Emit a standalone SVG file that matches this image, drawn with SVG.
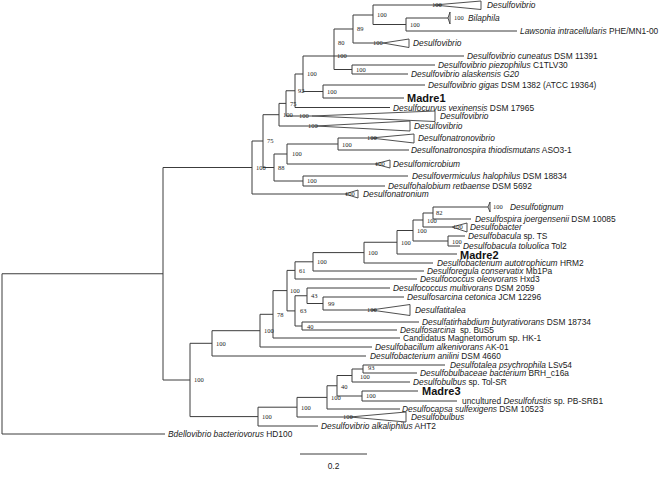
<svg xmlns="http://www.w3.org/2000/svg" width="661" height="480" viewBox="0 0 661 480">
<style>
.br{fill:none;stroke:#3c3c3c;stroke-width:1}
.tri{fill:#fff;stroke:#3c3c3c;stroke-width:0.9}
.lf{font-family:"Liberation Sans",Arial,sans-serif;font-size:8.4px;fill:#1a1a1a}
.i{font-style:italic}
.md{font-family:"Liberation Sans",Arial,sans-serif;font-size:11px;font-weight:bold;fill:#111}
.bs{font-family:"Liberation Serif","Times New Roman",serif;font-size:6.5px;fill:#222}
</style>
<rect width="661" height="480" fill="#fff"/>
<g id="connectors" class="br">
<path d="M373 5V24.5M373 5H434M373 24.5H406"/>
<path d="M406 18V31M406 18H449M406 31H517"/>
<path d="M353 15V43M353 15H373M353 43H383"/>
<path d="M334 29V69.5M334 29H353M334 56H464M334 69.5H352"/>
<path d="M352 65V74M352 65H435M352 74H408"/>
<path d="M303 56V91.5M303 56H334M303 91.5H323"/>
<path d="M323 85V98M323 85H425M323 98H404"/>
<path d="M295 74V107.5M295 74H303M295 107.5H390"/>
<path d="M286 90.75V116M286 90.75H295M286 116H312"/>
<path d="M279 103.4V126M279 103.4H286M279 126H316"/>
<path d="M263 114.7V167.5M263 114.7H279M263 167.5H274"/>
<path d="M274 154V181M274 154H287M274 181H303"/>
<path d="M287 144V164M287 144H338M287 164H375"/>
<path d="M338 138V150M338 138H371M338 150H409"/>
<path d="M303 176V186M303 176H408M303 186H385"/>
<path d="M252 141V194M252 141H263M252 194H345"/>
<path d="M163 167.5V380M163 167.5H252M163 380H190"/>
<path d="M2 273.75V434M2 273.75H163M2 434H165"/>
<path d="M433 207V219M433 207H488M433 219H471"/>
<path d="M423 213V227M423 213H433M423 227H452"/>
<path d="M448 236V246M448 236H465M448 246H460"/>
<path d="M413 220V241M413 220H423M413 241H448"/>
<path d="M397 230.5V254M397 230.5H413M397 254H457"/>
<path d="M364 242.25V263M364 242.25H397M364 263H433"/>
<path d="M313 252.6V271M313 252.6H364M313 271H424"/>
<path d="M295 261.8V279M295 261.8H313M295 279H417"/>
<path d="M307 288V303.5M307 288H390M307 303.5H323"/>
<path d="M323 297V310M323 297H404M323 310H371"/>
<path d="M302 322V330M302 322H419M302 330H397"/>
<path d="M295 295.75V326M295 295.75H307M295 326H302"/>
<path d="M287 270.4V310.9M287 270.4H295M287 310.9H295"/>
<path d="M273 290.6V338M273 290.6H287M273 338H400"/>
<path d="M260 314.3V347M260 314.3H273M260 347H372"/>
<path d="M212 330.7V356M212 330.7H260M212 356H366"/>
<path d="M363 365V373M363 365H445M363 373H417"/>
<path d="M352 369V382M352 369H363M352 382H410"/>
<path d="M362 391V401M362 391H418M362 401H457"/>
<path d="M337 375.5V396M337 375.5H352M337 396H362"/>
<path d="M327 385.75V409M327 385.75H337M327 409H400"/>
<path d="M297 397.4V417M297 397.4H327M297 417H350"/>
<path d="M258 407.2V426M258 407.2H297M258 426H318"/>
<path d="M190 343.3V416.6M190 343.3H212M190 416.6H258"/>
<path d="M300 454H367"/>
</g>
<g id="leaf-desulfovibrio-1"><polygon class="tri" points="434,5 481,1 481,9.5"/><text class="bs" x="432" y="7.3">100</text><text class="lf i" x="487" y="8">Desulfovibrio</text></g>
<g id="leaf-bilaphila"><polygon class="tri" points="448,18 450,12 450,24"/><text class="bs" x="454" y="20.3">100</text><text class="lf i" x="468" y="21">Bilaphila</text></g>
<g id="leaf-lawsonia"><text class="lf" x="520" y="34"><tspan class="i">Lawsonia intracellularis</tspan> PHE/MN1-00</text></g>
<g id="leaf-desulfovibrio-2"><polygon class="tri" points="383,43 409,39 409,47.5"/><text class="bs" x="373" y="45.3">100</text><text class="lf i" x="413" y="46">Desulfovibrio</text></g>
<g id="leaf-cuneatus"><text class="lf" x="467" y="59"><tspan class="i">Desulfovibrio cuneatus</tspan> DSM 11391</text></g>
<g id="leaf-piezophilus"><text class="lf" x="438" y="68"><tspan class="i">Desulfovibrio piezophilus</tspan> C1TLV30</text></g>
<g id="leaf-alaskensis"><text class="lf i" x="411" y="77">Desulfovibrio alaskensis G20</text></g>
<g id="leaf-gigas"><text class="lf" x="428" y="88"><tspan class="i">Desulfovibrio gigas</tspan> DSM 1382 (ATCC 19364)</text></g>
<g id="leaf-madre1"><text class="md" x="407" y="102">Madre1</text></g>
<g id="leaf-desulfocurvus"><text class="lf" x="393" y="110.5"><tspan class="i">Desulfocurvus vexinensis</tspan> DSM 17965</text></g>
<g id="leaf-desulfovibrio-3"><polygon class="tri" points="312,116 435,111 435,121.5"/><text class="bs" x="299" y="118.3">100</text><text class="lf i" x="440" y="119">Desulfovibrio</text></g>
<g id="leaf-desulfovibrio-4"><polygon class="tri" points="316,126 410,121 410,131"/><text class="bs" x="308" y="128.3">100</text><text class="lf i" x="414" y="129">Desulfovibrio</text></g>
<g id="leaf-desulfonatronovibrio"><polygon class="tri" points="371,138 414,134 414,143"/><text class="bs" x="367" y="140.3">100</text><text class="lf i" x="418" y="141">Desulfonatronovibrio</text></g>
<g id="leaf-desulfonatronospira"><text class="lf" x="411" y="153"><tspan class="i">Desulfonatronospira thiodismutans</tspan> ASO3-1</text></g>
<g id="leaf-desulfomicrobium"><polygon class="tri" points="375,164 390,160 390,168"/><text class="bs" x="375" y="166.3">100</text><text class="lf i" x="393" y="167">Desulfomicrobium</text></g>
<g id="leaf-desulfovermiculus"><text class="lf" x="412" y="179"><tspan class="i">Desulfovermiculus halophilus</tspan> DSM 18834</text></g>
<g id="leaf-desulfohalobium"><text class="lf" x="388" y="189"><tspan class="i">Desulfohalobium retbaense</tspan> DSM 5692</text></g>
<g id="leaf-desulfonatronium"><polygon class="tri" points="345,194 358,190 358,198"/><text class="bs" x="345" y="196.3">100</text><text class="lf i" x="363" y="197">Desulfonatronium</text></g>
<g id="leaf-desulfotignum"><polygon class="tri" points="488,207 490,202 490,212"/><text class="bs" x="493" y="209.3">100</text><text class="lf i" x="510" y="210">Desulfotignum</text></g>
<g id="leaf-desulfospira"><text class="lf" x="475" y="222"><tspan class="i">Desulfospira joergensenii</tspan> DSM 10085</text></g>
<g id="leaf-desulfobacter"><polygon class="tri" points="452,227 467,223 467,232"/><text class="bs" x="453" y="229.3">100</text><text class="lf i" x="470" y="230">Desulfobacter</text></g>
<g id="leaf-desulfobacula-ts"><text class="lf" x="468" y="239"><tspan class="i">Desulfobacula</tspan> sp. TS</text></g>
<g id="leaf-desulfobacula-toluolica"><text class="lf" x="463" y="248.5"><tspan class="i">Desulfobacula toluolica</tspan> Tol2</text></g>
<g id="leaf-madre2"><text class="md" x="460" y="258.5">Madre2</text></g>
<g id="leaf-autotrophicum"><text class="lf" x="437" y="266"><tspan class="i">Desulfobacterium autotrophicum</tspan> HRM2</text></g>
<g id="leaf-desulforegula"><text class="lf" x="427" y="274"><tspan class="i">Desulforegula conservatix</tspan> Mb1Pa</text></g>
<g id="leaf-oleovorans"><text class="lf" x="420" y="282"><tspan class="i">Desulfococcus oleovorans</tspan> Hxd3</text></g>
<g id="leaf-multivorans"><text class="lf" x="393" y="291"><tspan class="i">Desulfococcus multivorans</tspan> DSM 2059</text></g>
<g id="leaf-cetonica"><text class="lf" x="407" y="300"><tspan class="i">Desulfosarcina cetonica</tspan> JCM 12296</text></g>
<g id="leaf-desulfatitalea"><polygon class="tri" points="371,310 410,304.5 410,315.5"/><text class="bs" x="367" y="312.3">100</text><text class="lf i" x="415" y="313">Desulfatitalea</text></g>
<g id="leaf-desulfatirhabdium"><text class="lf" x="422" y="325"><tspan class="i">Desulfatirhabdium butyrativorans</tspan> DSM 18734</text></g>
<g id="leaf-bus5"><text class="lf" x="400" y="333"><tspan class="i">Desulfosarcina</tspan><tspan dx="4.5">sp. BuS5</tspan></text></g>
<g id="leaf-candidatus"><text class="lf" x="403" y="341">Candidatus Magnetomorum sp. HK-1</text></g>
<g id="leaf-desulfobacillum"><text class="lf" x="375" y="350"><tspan class="i">Desulfobacillum alkenivorans</tspan> AK-01</text></g>
<g id="leaf-anilini"><text class="lf" x="370" y="359"><tspan class="i">Desulfobacterium anilini</tspan> DSM 4660</text></g>
<g id="leaf-desulfotalea"><text class="lf" x="450" y="368"><tspan class="i">Desulfotalea psychrophila</tspan> LSv54</text></g>
<g id="leaf-desulfobulbaceae"><text class="lf" x="420" y="376"><tspan class="i">Desulfobulbaceae bacterium</tspan> BRH_c16a</text></g>
<g id="leaf-tol-sr"><text class="lf" x="413" y="385"><tspan class="i">Desulfobulbus</tspan> sp. Tol-SR</text></g>
<g id="leaf-madre3"><text class="md" x="422" y="395">Madre3</text></g>
<g id="leaf-uncultured"><text class="lf" x="462" y="404">uncultured <tspan class="i">Desulfofustis</tspan> sp. PB-SRB1</text></g>
<g id="leaf-desulfocapsa"><text class="lf" x="402" y="412"><tspan class="i">Desulfocapsa sulfexigens</tspan> DSM 10523</text></g>
<g id="leaf-desulfobulbus"><polygon class="tri" points="350,417 406,412 406,422"/><text class="bs" x="343" y="419.3">100</text><text class="lf i" x="411" y="420">Desulfobulbus</text></g>
<g id="leaf-alkaliphilus"><text class="lf" x="321" y="429"><tspan class="i">Desulfovibrio alkaliphilus</tspan> AHT2</text></g>
<g id="leaf-bdellovibrio"><text class="lf" x="168" y="437"><tspan class="i">Bdellovibrio bacteriovorus</tspan> HD100</text></g>
<g id="n-top"><text class="bs" x="377" y="17.3">100</text></g>
<g id="n-bl"><text class="bs" x="410" y="26.8">100</text></g>
<g id="n-89"><text class="bs" x="357" y="31.3">89</text></g>
<g id="n-80"><text class="bs" x="338" y="44.8">80</text></g>
<g id="n-100a"><text class="bs" x="337" y="58.3">100</text></g>
<g id="n-pa"><text class="bs" x="356" y="71.8">100</text></g>
<g id="n-h"><text class="bs" x="307" y="76.3">100</text></g>
<g id="n-gm"><text class="bs" x="327" y="94.3">100</text></g>
<g id="n-g"><text class="bs" x="298" y="93.3">92</text></g>
<g id="n-f"><text class="bs" x="290" y="106.3">75</text></g>
<g id="n-e"><text class="bs" x="283" y="117">100</text></g>
<g id="n-b"><text class="bs" x="267" y="143.3">75</text></g>
<g id="n-c"><text class="bs" x="278" y="170.3">88</text></g>
<g id="n-d"><text class="bs" x="292" y="156.3">100</text></g>
<g id="n-nv"><text class="bs" x="342" y="147">100</text></g>
<g id="n-i"><text class="bs" x="307" y="183.3">100</text></g>
<g id="n-a"><text class="bs" x="256" y="170">100</text></g>
<g id="n-x1"><text class="bs" x="436" y="215.3">82</text></g>
<g id="n-x2"><text class="bs" x="427" y="223.3">100</text></g>
<g id="n-x4"><text class="bs" x="452" y="244">100</text></g>
<g id="n-x3"><text class="bs" x="417" y="233">100</text></g>
<g id="n-x5"><text class="bs" x="401" y="244.5">100</text></g>
<g id="n-w"><text class="bs" x="368" y="254.8">100</text></g>
<g id="n-v"><text class="bs" x="317" y="264.3">100</text></g>
<g id="n-y"><text class="bs" x="299" y="272.5">61</text></g>
<g id="n-43"><text class="bs" x="311" y="298">43</text></g>
<g id="n-99"><text class="bs" x="328" y="306">99</text></g>
<g id="n-40a"><text class="bs" x="307" y="328.5">40</text></g>
<g id="n-63"><text class="bs" x="300" y="313.3">63</text></g>
<g id="n-o"><text class="bs" x="290" y="293">100</text></g>
<g id="n-n"><text class="bs" x="277" y="316.8">78</text></g>
<g id="n-m"><text class="bs" x="264" y="333">100</text></g>
<g id="n-k"><text class="bs" x="216" y="346">100</text></g>
<g id="n-u"><text class="bs" x="368" y="369.5">93</text></g>
<g id="n-s"><text class="bs" x="360" y="378.5">100</text></g>
<g id="n-t"><text class="bs" x="366" y="398.3">100</text></g>
<g id="n-q"><text class="bs" x="341" y="388.5">40</text></g>
<g id="n-p"><text class="bs" x="331" y="399.5">100</text></g>
<g id="n-r"><text class="bs" x="301" y="409.5">100</text></g>
<g id="n-l"><text class="bs" x="262" y="419">100</text></g>
<g id="n-j"><text class="bs" x="194" y="382.3">100</text></g>
<g id="scale"><text class="lf" x="333.5" y="469" text-anchor="middle">0.2</text></g>
</svg>
